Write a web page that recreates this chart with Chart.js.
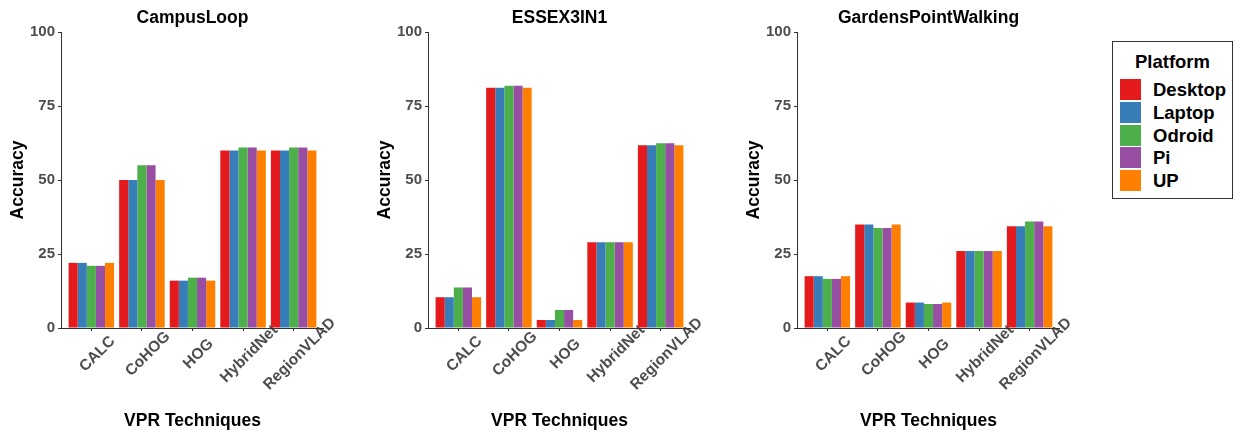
<!DOCTYPE html>
<html>
<head>
<meta charset="utf-8">
<script src="https://cdn.jsdelivr.net/npm/chart.js@4.4.1/dist/chart.umd.min.js"></script>
<style>
  body { margin: 0; background: #fff; width: 1235px; height: 432px; overflow: hidden; position: relative;
         font-family: 'Liberation Sans', Arial, sans-serif; }
  canvas { position: absolute; top: 0; }
  #legend { position: absolute; left: 1112px; top: 41px; width: 121px; height: 158px; box-sizing: border-box;
            border: 1px solid #333; }
  #legend .ttl { position: absolute; left: 0; right: 0; top: 9px; text-align: center; font-weight: bold; font-size: 18.5px; line-height: 21px; }
  #legend .key { position: absolute; left: 7px; width: 21px; height: 21px; }
  #legend .lbl { position: absolute; left: 40px; font-weight: bold; font-size: 18.5px; line-height: 21px; }
</style>
</head>
<body>
<canvas id="c1" width="362" height="432" style="left:0px"></canvas>
<canvas id="c2" width="362" height="432" style="left:367px"></canvas>
<canvas id="c3" width="362" height="432" style="left:736px"></canvas>
<div id="legend"></div>
<script>
// Data
const categories = ['CALC', 'CoHOG', 'HOG', 'HybridNet', 'RegionVLAD'];
const platforms = ['Desktop', 'Laptop', 'Odroid', 'Pi', 'UP'];
const colors = ['#E41A1C', '#377EB8', '#4DAF4A', '#984EA3', '#FF7F00'];
const yTicks = [0, 25, 50, 75, 100];

// one row per platform (Desktop, Laptop, Odroid, Pi, UP)
const campusLoop = [
  [22, 50, 16, 60, 60],
  [22, 50, 16, 60, 60],
  [21, 55, 17, 61, 61],
  [21, 55, 17, 61, 61],
  [22, 50, 16, 60, 60]
];
const essex3in1 = [
  [10.4, 81.2, 2.7, 29, 61.7],
  [10.4, 81.2, 2.7, 29, 61.7],
  [13.7, 81.8, 6.1, 29, 62.4],
  [13.7, 81.8, 6.1, 29, 62.4],
  [10.4, 81.2, 2.7, 29, 61.7]
];
const gardensPoint = [
  [17.5, 35, 8.6, 26, 34.4],
  [17.5, 35, 8.6, 26, 34.4],
  [16.6, 33.8, 8.1, 26, 36],
  [16.6, 33.8, 8.1, 26, 36],
  [17.5, 35, 8.6, 26, 34.4]
];

Chart.defaults.font.family = "'Liberation Sans', Arial, sans-serif";

// ggplot style: rotated tick labels centred under their tick,
// and an x axis line that stops at the panel edge
const ggAxis = {
  id: 'ggAxis',
  beforeDraw(chart) {
    const scale = chart.scales.x;
    scale.getLabelItems().forEach((item, i) => {
      item.textOffset = 0;
      item.options.textAlign = 'center';
      item.options.textBaseline = 'middle';
      item.options.translation = [scale.getPixelForTick(i) + 6, scale.top + 26];
    });
  },
  afterDraw(chart) {
    const {ctx} = chart;
    const x = chart.scales.x;
    const y0 = Math.round(chart.scales.y.getPixelForValue(0)) + 0.5;
    ctx.save();
    ctx.strokeStyle = '#333';
    ctx.lineWidth = 1;
    ctx.beginPath();
    ctx.moveTo(x.getPixelForValue(0.4), y0);
    ctx.lineTo(x.getPixelForValue(5.6), y0);
    ctx.stroke();
    ctx.restore();
  }
};

const makePanel = (id, title, values) => {
  new Chart(document.getElementById(id), {
    type: 'bar',
    data: {
      datasets: platforms.map((p, k) => ({
        label: p,
        data: values[k].map((v, i) => ({ x: i + 1, y: v })),
        backgroundColor: colors[k],
        borderWidth: 0,
        categoryPercentage: 0.9,
        barPercentage: 1.0
      }))
    },
    options: {
      responsive: false,
      animation: false,
      devicePixelRatio: 1,
      layout: { padding: { right: 38 } },
      plugins: {
        legend: { display: false },
        tooltip: { enabled: false },
        title: {
          display: true, text: title, fullSize: false, color: '#000',
          font: { size: 17.5, weight: 'bold' }, padding: { top: 8, bottom: 3 }
        }
      },
      scales: {
        x: {
          type: 'linear', min: 0.4, max: 5.6, offset: false,
          afterBuildTicks: s => { s.ticks = categories.map((c, i) => ({ value: i + 1 })); },
          afterFit: s => { s.height = 104; },
          grid: { drawOnChartArea: false, tickLength: 3, color: '#333', offset: false },
          border: { display: false },
          ticks: {
            // mirror only switches off the label clip box; positions are set in ggAxis
            mirror: true,
            autoSkip: false, minRotation: 45, maxRotation: 45, color: '#4d4d4d',
            font: { size: 15.5, weight: 'bold' },
            callback: (v, i) => categories[i]
          },
          title: {
            display: true, text: 'VPR Techniques', color: '#000',
            font: { size: 17.5, weight: 'bold' }, padding: { top: 1, bottom: 0 }
          }
        },
        y: {
          min: 0, max: 100,
          afterBuildTicks: s => { s.ticks = yTicks.map(v => ({ value: v })); },
          afterFit: s => { s.width = 61; },
          grid: { drawOnChartArea: false, tickLength: 3, color: '#333' },
          border: { color: '#333', width: 1 },
          ticks: { color: '#4d4d4d', padding: 3, font: { size: 15, weight: 'bold' } },
          title: {
            display: true, text: 'Accuracy', color: '#000',
            font: { size: 17.5, weight: 'bold' }, padding: { top: 8, bottom: 0 }
          }
        }
      }
    },
    plugins: [ggAxis]
  });
};

makePanel('c1', 'CampusLoop', campusLoop);
makePanel('c2', 'ESSEX3IN1', essex3in1);
makePanel('c3', 'GardensPointWalking', gardensPoint);

// legend
const legend = document.getElementById('legend');
legend.innerHTML = '<div class="ttl">Platform</div>' + platforms.map((p, k) =>
  `<div class="key" style="top:${37 + k * 22.75}px;background:${colors[k]}"></div>` +
  `<div class="lbl" style="top:${37 + k * 22.75}px">${p}</div>`).join('');
</script>
</body>
</html>
